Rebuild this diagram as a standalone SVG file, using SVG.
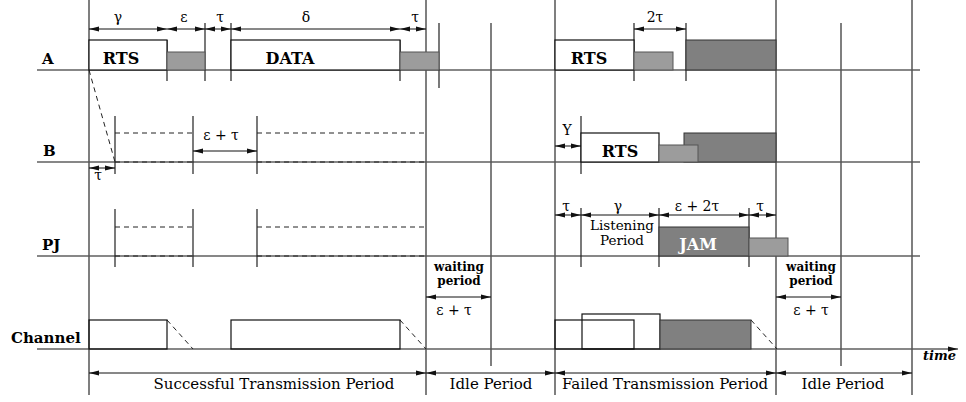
<svg xmlns="http://www.w3.org/2000/svg" width="966" height="402" viewBox="0 0 966 402">
<style>
text{font-family:"DejaVu Serif","Liberation Serif",serif;fill:#000}
.lbl{font-weight:bold;font-size:15px}
.box{font-weight:bold;font-size:16px;text-anchor:middle}
.g{font-size:14px;text-anchor:middle}
.per{font-size:15px;text-anchor:middle}
.lp{font-size:13.5px;text-anchor:middle}
.wp{font-size:12px;font-weight:bold;text-anchor:middle}
.long{stroke:#555;stroke-width:1.5;fill:none}
.tick{stroke:#222;stroke-width:1.2;fill:none}
.base{stroke:#111;stroke-width:1.2;fill:none}
.dash{stroke:#222;stroke-width:1;stroke-dasharray:5,4;fill:none}
.dim{stroke:#111;stroke-width:1;fill:none;marker-start:url(#ah);marker-end:url(#ah)}
.wbox{fill:#fff;stroke:#111;stroke-width:1.2}
.obox{fill:none;stroke:#111;stroke-width:1.2}
.lg{fill:#9c9c9c;stroke:#555;stroke-width:1}
.dg{fill:#808080;stroke:#333;stroke-width:1}
</style>
<defs>
<marker id="ah" viewBox="0 0 10 6" refX="10" refY="3" markerWidth="10" markerHeight="6" markerUnits="userSpaceOnUse" orient="auto-start-reverse"><path d="M0,0.5 L10,3 L0,5.5 z" fill="#111"/></marker>
</defs>
<rect width="966" height="402" fill="#fff"/>

<g id="connectors">
<path class="base" d="M37,70 H920 M37,162 H920 M37,256 H920"/>
<path class="base" d="M37,349 H958" marker-end="url(#ah)"/>
<path class="long" d="M89,0 V395 M426,0 V395 M555,0 V395 M776,0 V395 M912,0 V395"/>
<path class="long" d="M491,23 V366 M841,23 V366"/>
<path class="tick" d="M167,40 V81 M205,23 V81 M231,23 V81 M400,40 V81 M439,23 V88 M634,23 V81 M686,23 V81"/>
<path class="tick" d="M115,116 V174 M193,116 V174 M257,116 V174 M581,116 V174"/>
<path class="tick" d="M115,209 V267 M193,209 V267 M257,209 V267 M581,208 V267 M659,208 V267 M749,208 V267"/>
<path class="dash" d="M89,70 L115,162"/>
<path class="dash" d="M115,133 H193 M257,133 H426 M115,162 H193 M257,162 H426"/>
<path class="dash" d="M115,227 H193 M257,227 H426 M115,256 H193 M257,256 H426"/>
<path class="dash" d="M167,320 L193,349 M400,320 L426,349 M751,320 L777,349"/>
<path class="dim" d="M89,29 H167"/>
<path class="dim" d="M167,29 H205"/>
<path class="dim" d="M205,29 H231"/>
<path class="dim" d="M231,29 H400"/>
<path class="dim" d="M400,29 H426"/>
<path class="dim" d="M634,29 H686"/>
<path class="dim" d="M193,151 H257"/>
<path class="dim" d="M89,168 H115"/>
<path class="dim" d="M555,146 H581"/>
<path class="dim" d="M555,215 H581"/>
<path class="dim" d="M581,215 H659"/>
<path class="dim" d="M659,215 H749"/>
<path class="dim" d="M749,215 H776"/>
<path class="dim" d="M426,297 H491"/>
<path class="dim" d="M776,297 H841"/>
<path class="dim" d="M89,373 H426"/>
<path class="dim" d="M426,373 H555"/>
<path class="dim" d="M555,373 H776"/>
<path class="dim" d="M776,373 H912"/>
</g>

<g id="labels">
<text class="lbl" x="42" y="64">A</text>
<text class="lbl" x="43" y="156">B</text>
<text class="lbl" x="42" y="250">PJ</text>
<text class="lbl" x="11" y="343">Channel</text>
</g>

<g id="node-A">
<rect class="wbox" x="89" y="40" width="78" height="30"/>
<text class="box" x="121" y="64">RTS</text>
<rect class="lg" x="167" y="52" width="38" height="18"/>
<rect class="wbox" x="231" y="40" width="169" height="30"/>
<text class="box" x="290" y="64">DATA</text>
<rect class="lg" x="400" y="52" width="39" height="18"/>
<rect class="wbox" x="555" y="40" width="79" height="30"/>
<text class="box" x="589" y="64">RTS</text>
<rect class="lg" x="634" y="52" width="39" height="18"/>
<rect class="dg" x="686" y="40" width="90" height="30"/>
</g>

<g id="node-B">
<rect class="wbox" x="581" y="133" width="78" height="29"/>
<text class="box" x="620" y="157">RTS</text>
<rect class="dg" x="684" y="133" width="92" height="29"/>
<rect class="lg" x="659" y="145" width="39" height="17"/>
</g>

<g id="node-PJ">
<text class="lp" x="622" y="230">Listening</text>
<text class="lp" x="622" y="245">Period</text>
<rect class="dg" x="659" y="227" width="90" height="29"/>
<text class="box" x="698" y="250" style="fill:#fff">JAM</text>
<rect class="lg" x="749" y="238" width="39" height="18"/>
</g>

<g id="node-Channel">
<rect class="obox" x="89" y="320" width="78" height="29"/>
<rect class="obox" x="231" y="320" width="169" height="29"/>
<rect class="obox" x="555" y="320" width="79" height="29"/>
<rect class="obox" x="582" y="314" width="78" height="35"/>
<rect class="dg" x="660" y="320" width="91" height="29"/>
</g>

<g id="dim-labels">
<text class="g" x="118" y="22">γ</text>
<text class="g" x="184" y="22">ε</text>
<text class="g" x="220" y="22">τ</text>
<text class="g" x="306" y="22">δ</text>
<text class="g" x="415" y="22">τ</text>
<text class="g" x="655" y="22">2τ</text>
<text class="g" x="221" y="140">ε + τ</text>
<text class="g" x="98" y="180">τ</text>
<text class="g" x="567" y="135">Y</text>
<text class="g" x="566" y="211">τ</text>
<text class="g" x="618" y="211">γ</text>
<text class="g" x="697" y="211">ε + 2τ</text>
<text class="g" x="760" y="211">τ</text>
<text class="wp" x="459" y="271">waiting</text>
<text class="wp" x="459" y="285">period</text>
<text class="g" x="454" y="315">ε + τ</text>
<text class="wp" x="811" y="271">waiting</text>
<text class="wp" x="811" y="285">period</text>
<text class="g" x="811" y="315">ε + τ</text>
<text x="923" y="360" style="font-style:italic;font-weight:bold;font-size:13px">time</text>
<text class="per" x="274" y="389">Successful Transmission Period</text>
<text class="per" x="491" y="389">Idle Period</text>
<text class="per" x="665" y="389">Failed Transmission Period</text>
<text class="per" x="843" y="389">Idle Period</text>
</g>
</svg>
